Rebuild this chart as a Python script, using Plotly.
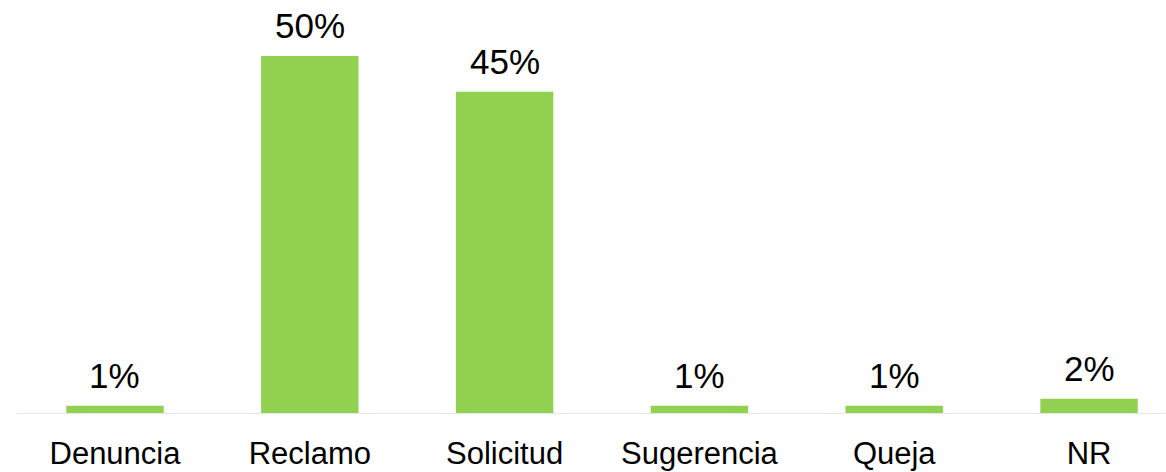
import plotly.graph_objects as go

# Distribution of request types (percent)
categories = ["Denuncia", "Reclamo", "Solicitud", "Sugerencia", "Queja", "NR"]
percentages = [1, 50, 45, 1, 1, 2]
value_labels = [f"{v}%" for v in percentages]

BAR_COLOR = "#92D050"
FONT = "Liberation Sans, Arial, sans-serif"

fig = go.Figure()
fig.add_trace(
    go.Bar(
        x=categories,
        y=percentages,
        width=0.5,
        marker=dict(color=BAR_COLOR, line=dict(width=0)),
        hoverinfo="skip",
    )
)

# value labels above each bar
for cat, val, lab in zip(categories, percentages, value_labels):
    fig.add_annotation(
        x=cat,
        y=val,
        text=lab,
        showarrow=False,
        yanchor="bottom",
        yshift=9,
        font=dict(family=FONT, size=35, color="#000000"),
    )

fig.update_layout(
    width=1166,
    height=472,
    margin=dict(l=17, r=0, t=0, b=59),
    paper_bgcolor="white",
    plot_bgcolor="white",
    showlegend=False,
    font=dict(family=FONT, color="#000000"),
    xaxis=dict(
        type="category",
        range=[-0.503, 5.395],
        showgrid=False,
        showline=True,
        linecolor="#e6e6e6",
        linewidth=1,
        ticks="outside",
        ticklen=13,
        tickcolor="rgba(0,0,0,0)",
        tickfont=dict(family=FONT, size=31, color="#000000"),
        fixedrange=True,
    ),
    yaxis=dict(
        range=[0, 57.84],
        visible=False,
        showgrid=False,
        zeroline=False,
        fixedrange=True,
    ),
)

fig.write_html("out.html")
